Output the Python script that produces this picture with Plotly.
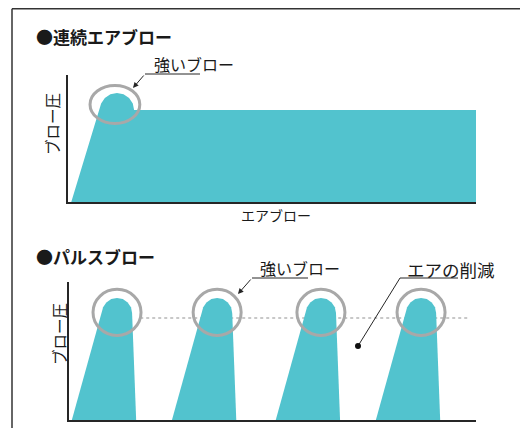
import plotly.graph_objects as go

# page body has an 8px margin; the figure fills the rest of the 528x428 window
OFF = 8
W, H = 520, 420
TEAL = "#52c3ce"
RING = "#a8a8a8"
INK = "#262626"
FONT = "Noto Sans CJK JP"

# ---- data: continuous air blow (time, pressure) ----
cont_time = [0.08, 0.78, 0.812, 0.903, 1.039, 1.20, 1.361, 1.497, 1.588, 1.62, 10.0]
cont_pressure = [0.0, 0.724, 0.775, 0.819, 0.848, 0.858, 0.848, 0.819, 0.775, 0.724, 0.724]

# ---- data: pulse blow ----
pulse_centres = [1.18, 3.64, 6.19, 8.65]
pulse_profile_dt = [-1.11, -0.37, -0.342, -0.262, -0.142, 0.0, 0.142, 0.262, 0.342, 0.37, 0.47]
pulse_profile_p = [0.0, 0.775, 0.817, 0.852, 0.876, 0.884, 0.876, 0.852, 0.817, 0.775, 0.0]
reduced_level = 0.74

# ---- text ----
title_cont = "●連続エアブロー"
title_pulse = "●パルスブロー"
y_label = "ブロー圧"
x_label = "エアブロー"
strong_label = "強いブロー"
saving_label = "エアの削減"


def px(x, y):
    return (x - OFF) / W, 1 - (y - OFF) / H


def dom_x(a, b):
    return [(a - OFF) / W, (b - OFF) / W]


def dom_y(top, bottom):
    return [1 - (bottom - OFF) / H, 1 - (top - OFF) / H]


fig = go.Figure()

fig.add_trace(go.Scatter(x=cont_time, y=cont_pressure, fill="tozeroy", mode="lines",
                         line=dict(width=0, color=TEAL), fillcolor=TEAL,
                         xaxis="x", yaxis="y", hoverinfo="skip", showlegend=False))

for c in pulse_centres:
    fig.add_trace(go.Scatter(x=[c + d for d in pulse_profile_dt], y=pulse_profile_p,
                             fill="toself", mode="lines",
                             line=dict(width=0, color=TEAL), fillcolor=TEAL,
                             xaxis="x2", yaxis="y2", hoverinfo="skip", showlegend=False))

axis_common = dict(showline=True, linecolor=INK, linewidth=2, showgrid=False,
                   zeroline=False, showticklabels=False, ticks="", fixedrange=True)

fig.update_layout(
    width=W, height=H, margin=dict(l=0, r=0, t=0, b=0),
    paper_bgcolor="white", plot_bgcolor="white",
    xaxis=dict(domain=dom_x(68, 476), range=[0, 10], anchor="y", **axis_common),
    yaxis=dict(domain=dom_y(75, 202), range=[0, 1], anchor="x", **axis_common),
    xaxis2=dict(domain=dom_x(69, 476), range=[0, 10], anchor="y2", **axis_common),
    yaxis2=dict(domain=dom_y(282, 420), range=[0, 1], anchor="x2", **axis_common),
    showlegend=False,
)

shapes = []
# reduced-air dotted level (below pulses)
shapes.append(dict(type="line", xref="x2", yref="y2", x0=1.75, x1=9.85,
                   y0=reduced_level, y1=reduced_level, layer="below",
                   line=dict(color="#c8c8c8", width=2, dash="dot")))

# ring around the continuous peak
i_pk = cont_pressure.index(max(cont_pressure))
tc, pc = cont_time[i_pk] - 0.05, cont_pressure[i_pk] - 0.09
shapes.append(dict(type="circle", xref="x", yref="y", x0=tc - 0.61, x1=tc + 0.61,
                   y0=pc - 0.15, y1=pc + 0.15, line=dict(color=RING, width=3)))
# rings around each pulse peak
ring_p = max(pulse_profile_p) - 0.104
for c in pulse_centres:
    shapes.append(dict(type="circle", xref="x2", yref="y2", x0=c - 0.59, x1=c + 0.59,
                       y0=ring_p - 0.167, y1=ring_p + 0.167,
                       line=dict(color=RING, width=3)))

# frame
for (a, b) in [((12, 8.8), (528, 8.8)), ((12, 8.8), (12, 428))]:
    x0, y0 = px(*a)
    x1, y1 = px(*b)
    shapes.append(dict(type="line", xref="paper", yref="paper", x0=x0, y0=y0, x1=x1, y1=y1,
                       line=dict(color="#333333", width=1.5)))

# underlines and leader lines
for (a, b) in [((145, 74), (200, 74)), ((252, 278), (308, 278)),
               ((400, 278), (458, 278)), ((400, 278), (358, 346))]:
    x0, y0 = px(*a)
    x1, y1 = px(*b)
    shapes.append(dict(type="line", xref="paper", yref="paper", x0=x0, y0=y0, x1=x1, y1=y1,
                       line=dict(color=INK, width=1)))
# pointer dot
dx, dy = px(358, 346)
shapes.append(dict(type="circle", xref="paper", yref="paper",
                   x0=dx - 3 / W, x1=dx + 3 / W, y0=dy - 3 / H, y1=dy + 3 / H,
                   fillcolor="#111111", line=dict(color="#111111", width=0)))
fig.update_layout(shapes=shapes)

ann = []


def text(t, x, y, size, anchor="left", angle=0, bold=False):
    xx, yy = px(x, y)
    ann.append(dict(text=f"<b>{t}</b>" if bold else t, x=xx, y=yy, xref="paper", yref="paper",
                    xanchor=anchor, yanchor="middle", showarrow=False, textangle=angle,
                    font=dict(family=FONT, size=size, color="#1a1a1a")))


text(title_cont, 34, 37, 17, bold=True)
text(title_pulse, 34, 256, 17, bold=True)
text(strong_label, 152, 64, 16)
text(strong_label, 258, 268, 16)
text(saving_label, 405, 269, 17.5)
text(x_label, 276, 215, 14, anchor="center")
text(y_label, 52, 124, 15.5, anchor="center", angle=-90)
text(y_label, 59, 334, 15.5, anchor="center", angle=-90)

for head, tail in [((133, 88), (145, 74)), ((238, 294), (252, 278))]:
    hx, hy = px(*head)
    ann.append(dict(text="", x=hx, y=hy, xref="paper", yref="paper", showarrow=True,
                    ax=tail[0] - head[0], ay=tail[1] - head[1], arrowhead=2,
                    arrowsize=1.1, arrowwidth=1, arrowcolor=INK))

fig.update_layout(annotations=ann)

fig.write_html("out.html")
